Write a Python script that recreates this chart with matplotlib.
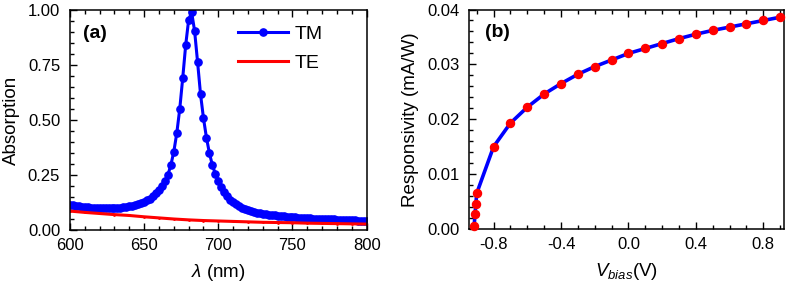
import matplotlib
matplotlib.use("Agg")
import matplotlib.pyplot as plt
from matplotlib.ticker import MultipleLocator

plt.rcParams['font.family'] = ['Liberation Sans', 'DejaVu Sans']
plt.rcParams['mathtext.fontset'] = 'custom'
plt.rcParams['mathtext.rm'] = 'Liberation Sans'
plt.rcParams['mathtext.it'] = 'Liberation Sans:italic'

# ---------------- data ----------------
tm_wavelength = [600, 602, 604, 606, 608, 610, 612, 614, 616, 618,
                 620, 622, 624, 626, 628, 630, 632, 634, 636, 638,
                 640, 642, 644, 646, 648, 650, 652, 654, 656, 658,
                 660, 662, 664, 666, 668, 670, 672, 674, 676, 678,
                 680, 682, 684, 686, 688, 690, 692, 694, 696, 698,
                 700, 702, 704, 706, 708, 710, 712, 714, 716, 718,
                 720, 722, 724, 726, 728, 730, 732, 734, 736, 738,
                 740, 742, 744, 746, 748, 750, 752, 754, 756, 758,
                 760, 762, 764, 766, 768, 770, 772, 774, 776, 778,
                 780, 782, 784, 786, 788, 790, 792, 794, 796, 798, 800]
tm_absorption = [0.114, 0.112, 0.110, 0.108, 0.106, 0.104, 0.103, 0.102, 0.101, 0.100,
                 0.100, 0.099, 0.099, 0.099, 0.099, 0.100, 0.100, 0.101, 0.103, 0.105,
                 0.107, 0.110, 0.113, 0.117, 0.122, 0.128, 0.135, 0.143, 0.153, 0.166,
                 0.182, 0.200, 0.222, 0.250, 0.295, 0.356, 0.440, 0.550, 0.690, 0.840,
                 0.955, 0.990, 0.906, 0.765, 0.618, 0.508, 0.420, 0.349, 0.295, 0.255,
                 0.222, 0.195, 0.173, 0.154, 0.138, 0.126, 0.116, 0.108, 0.101, 0.095,
                 0.090, 0.086, 0.082, 0.079, 0.076, 0.074, 0.072, 0.070, 0.068, 0.066,
                 0.064, 0.063, 0.062, 0.060, 0.059, 0.058, 0.057, 0.056, 0.055, 0.054,
                 0.053, 0.053, 0.052, 0.051, 0.051, 0.050, 0.049, 0.049, 0.048, 0.048,
                 0.047, 0.047, 0.046, 0.045, 0.045, 0.044, 0.044, 0.043, 0.043, 0.042, 0.042]

te_wavelength = [600, 610, 620, 630, 640, 650, 660, 670, 680, 690, 700,
                 710, 720, 730, 740, 750, 760, 770, 780, 790, 800]
te_absorption = [0.086, 0.080, 0.075, 0.070, 0.066, 0.060, 0.055, 0.050, 0.046, 0.043, 0.041,
                 0.039, 0.037, 0.035, 0.034, 0.033, 0.031, 0.030, 0.029, 0.028, 0.027]

v_bias = [-0.915, -0.91, -0.905, -0.90, -0.8, -0.7, -0.6, -0.5, -0.4, -0.3, -0.2,
          -0.1, 0.0, 0.1, 0.2, 0.3, 0.4, 0.5, 0.6, 0.7, 0.8, 0.9]
responsivity = [0.0006, 0.0028, 0.0045, 0.0065, 0.0150, 0.0193, 0.0222, 0.0246, 0.0265,
                0.0282, 0.0296, 0.0308, 0.0320, 0.0329, 0.0338, 0.0347, 0.0355, 0.0362,
                0.0368, 0.0374, 0.0380, 0.0386]

x_ticks_a = [600, 650, 700, 750, 800]
y_ticks_a = [0.00, 0.25, 0.50, 0.75, 1.00]
x_ticks_b = [-0.8, -0.4, 0.0, 0.4, 0.8]
y_ticks_b = [0.00, 0.01, 0.02, 0.03, 0.04]

# ---------------- figure ----------------
fig = plt.figure(figsize=(7.87, 2.90), dpi=100)
ax1 = fig.add_axes([0.0889, 0.2069, 0.3770, 0.7586])
ax2 = fig.add_axes([0.5963, 0.2103, 0.4000, 0.7569])

def style(ax):
    for s in ax.spines.values():
        s.set_linewidth(1.1)
    ax.tick_params(which='both', direction='in', top=True, right=False,
                   labelsize=12, width=1.0)
    ax.tick_params(which='major', length=5)
    ax.tick_params(which='minor', length=3)
    ax.tick_params(axis='y', pad=7)
    ax.tick_params(axis='x', pad=6)

# Panel (a)
ax1.plot(tm_wavelength, tm_absorption, color='#0000ff', lw=2.2, marker='o',
         markersize=5.2, label='TM')
ax1.plot(te_wavelength, te_absorption, color='#ff0000', lw=2.2, marker='.',
         markersize=2, label='TE')
ax1.set_xlim(600, 800)
ax1.set_ylim(0, 1.0)
ax1.set_xticks(x_ticks_a)
ax1.set_xticklabels([str(v) for v in x_ticks_a])
ax1.set_yticks(y_ticks_a)
ax1.set_yticklabels([f"{v:.2f}" for v in y_ticks_a])
ax1.xaxis.set_minor_locator(MultipleLocator(10))
ax1.yaxis.set_minor_locator(MultipleLocator(0.05))
style(ax1)
ax1.set_xlabel(r'$\lambda$ (nm)', fontsize=13.5, labelpad=6)
ax1.set_ylabel('Absorption', fontsize=13.5, labelpad=6)
ax1.text(0.045, 0.895, '(a)', transform=ax1.transAxes, fontsize=14,
         fontweight='bold', va='center', ha='left')
ax1.legend(loc='upper left', bbox_to_anchor=(0.565, 0.93), frameon=False,
           fontsize=14, handlelength=2.6, handletextpad=0.35,
           labelspacing=0.56, borderpad=0, borderaxespad=0)

# Panel (b)
ax2.plot(v_bias, responsivity, color='#0000ff', lw=2.6, marker='o',
         markersize=5.8, markerfacecolor='#ff0000', markeredgecolor='#ff0000',
         clip_on=False, zorder=3)
ax2.set_xlim(-0.944, 0.923)
ax2.set_ylim(0, 0.04)
ax2.set_xticks(x_ticks_b)
ax2.set_xticklabels([f"{v:.1f}" for v in x_ticks_b])
ax2.set_yticks(y_ticks_b)
ax2.set_yticklabels([f"{v:.2f}" for v in y_ticks_b])
ax2.xaxis.set_minor_locator(MultipleLocator(0.1))
ax2.yaxis.set_minor_locator(MultipleLocator(0.002))
style(ax2)
ax2.set_xlabel(r'$V_{bias}$(V)', fontsize=13.5, labelpad=6)
ax2.set_ylabel('Responsivity (mA/W)', fontsize=13.5, labelpad=6)
ax2.text(0.05, 0.895, '(b)', transform=ax2.transAxes, fontsize=14,
         fontweight='bold', va='center', ha='left')

fig.savefig('out.png', dpi=100)
